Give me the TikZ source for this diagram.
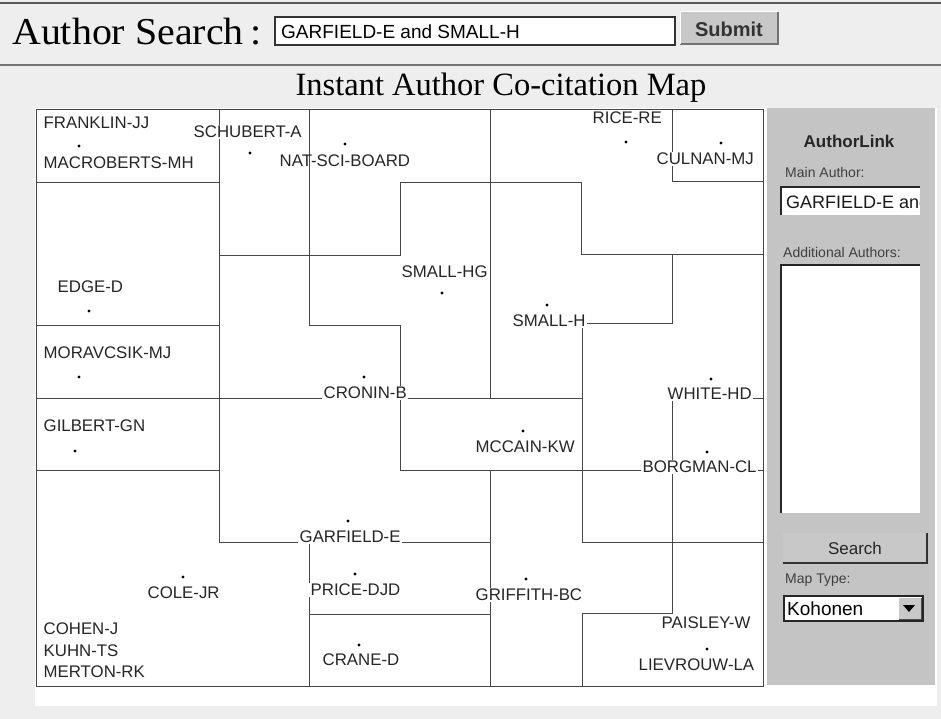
\documentclass[tikz,border=0pt]{standalone}
\usepackage{fontspec}
\setmainfont{Liberation Serif}
\newfontfamily\arial{Liberation Sans}
\definecolor{pagebg}{RGB}{238,238,238}
\definecolor{panelgray}{RGB}{196,196,196}
\definecolor{btngray}{RGB}{200,200,200}
\definecolor{gridcol}{RGB}{70,70,70}
\begin{document}
\begin{tikzpicture}[x=1pt,y=-1pt,
  grid/.style={draw=gridcol, line width=0.9pt},
  lbl/.style={font=\arial\fontsize{16.8}{18}\selectfont, inner sep=1.5pt, anchor=west, text=black!85},
  wlbl/.style={lbl, fill=white},
  pt/.style={fill=black, circle, inner sep=0pt, minimum size=3.2pt},
  small/.style={font=\arial\fontsize{14}{15}\selectfont, anchor=west, inner sep=0pt, text=black!75},
]
\useasboundingbox (0,0) rectangle (941,719);
\fill[pagebg] (0,0) rectangle (941,719);
% header rules
\draw[line width=2pt, black!65] (0,3) -- (941,3);
\draw[line width=2.5pt, black!55] (0,65) -- (941,65);
% search row
\node[font=\fontsize{38}{42}\selectfont, anchor=base west, inner sep=0pt, xscale=1.05] (lab) at (12,45) {Author Search\kern6pt:};
\draw[fill=white, draw=black!80, line width=1.2pt] (275,17) rectangle (675,45);
\node[font=\arial\fontsize{19}{21}\selectfont, anchor=west, inner sep=0pt] (query) at (281,32) {GARFIELD-E and SMALL-H};
\fill[btngray] (680,12) rectangle (778,44);
\draw[line width=1.5pt, black!55] (680,44) -- (778,44) -- (778,12);
\draw[line width=1pt, white] (680,44) -- (680,12) -- (778,12);
\node[font=\arial\bfseries\fontsize{20}{22}\selectfont, text=black!80] (submit) at (729,29) {Submit};
% title
\node[font=\fontsize{32.5}{35}\selectfont] (title) at (501,88) {Instant Author Co-citation Map};
% white area
\fill[white] (35,108) rectangle (937,706);
% side panel
\fill[panelgray] (767,108) rectangle (935,685);
% map frame
\draw[grid] (36,109) rectangle (763,686);
% region borders
\draw[grid] (36,182) -- (219,182);
\draw[grid] (36,325) -- (219,325);
\draw[grid] (36,398) -- (582,398);
\draw[grid] (36,470) -- (219,470);
\draw[grid] (219,109) -- (219,542) -- (490,542);
\draw[grid] (219,255) -- (400,255) -- (400,182) -- (581,182) -- (581,254) -- (763,254);
\draw[grid] (309,109) -- (309,325) -- (400,325) -- (400,470) -- (763,470);
\draw[grid] (490,109) -- (490,398);
\draw[grid] (490,470) -- (490,686);
\draw[grid] (672,109) -- (672,181) -- (763,181);
\draw[grid] (582,542) -- (582,323) -- (672,323) -- (672,254);
\draw[grid] (763,398) -- (672,398) -- (672,613) -- (582,613) -- (582,686);
\draw[grid] (582,542) -- (763,542);
\draw[grid] (309,542) -- (309,686);
\draw[grid] (309,614) -- (490,614);
% labels
\node[lbl] (franklin) at (42,123) {FRANKLIN-JJ};
\node[pt] (dfranklin) at (79,146) {};
\node[lbl] (macroberts) at (42,163) {MACROBERTS-MH};
\node[wlbl] (schubert) at (192,132) {SCHUBERT-A};
\node[pt] (dschubert) at (250,153) {};
\node[lbl] (natsci) at (278,161) {NAT-SCI-BOARD};
\node[pt] (dnatsci) at (345,144) {};
\node[wlbl] (rice) at (591,118) {RICE-RE};
\node[pt] (drice) at (626,142) {};
\node[wlbl] (culnan) at (655,159) {CULNAN-MJ};
\node[pt] (dculnan) at (721,143) {};
\node[lbl] (edge) at (56,287) {EDGE-D};
\node[pt] (dedge) at (89,311) {};
\node[lbl] (smallhg) at (400,272) {SMALL-HG};
\node[pt] (dsmallhg) at (442,293) {};
\node[wlbl] (smallh) at (511,321) {SMALL-H};
\node[pt] (dsmallh) at (547,305) {};
\node[lbl] (moravcsik) at (42,353) {MORAVCSIK-MJ};
\node[pt] (dmoravcsik) at (79,377) {};
\node[wlbl] (cronin) at (322,393) {CRONIN-B};
\node[pt] (dcronin) at (364,377) {};
\node[wlbl] (white) at (666,394) {WHITE-HD};
\node[pt] (dwhite) at (711,379) {};
\node[lbl] (gilbert) at (42,426) {GILBERT-GN};
\node[pt] (dgilbert) at (75,451) {};
\node[lbl] (mccain) at (474,447) {MCCAIN-KW};
\node[pt] (dmccain) at (523,431) {};
\node[wlbl] (borgman) at (641,467) {BORGMAN-CL};
\node[pt] (dborgman) at (707,452) {};
\node[wlbl] (garfield) at (298,537) {GARFIELD-E};
\node[pt] (dgarfield) at (348,521) {};
\node[lbl] (cole) at (146,593) {COLE-JR};
\node[pt] (dcole) at (183,577) {};
\node[wlbl] (price) at (309,590) {PRICE-DJD};
\node[pt] (dprice) at (355,574) {};
\node[wlbl] (griffith) at (474,595) {GRIFFITH-BC};
\node[pt] (dgriffith) at (526,579) {};
\node[wlbl] (paisley) at (660,623) {PAISLEY-W};
\node[lbl] (crane) at (321,660) {CRANE-D};
\node[pt] (dcrane) at (359,645) {};
\node[lbl] (lievrouw) at (637,665) {LIEVROUW-LA};
\node[pt] (dlievrouw) at (707,649) {};
\node[lbl] (cohen) at (42,629) {COHEN-J};
\node[lbl] (kuhn) at (42,651) {KUHN-TS};
\node[lbl] (merton) at (42,672) {MERTON-RK};
% panel contents
\node[font=\arial\bfseries\fontsize{17}{19}\selectfont, text=black!85] (authorlink) at (849,141) {AuthorLink};
\node[small] (mainauthor) at (785,172) {Main Author:};
\fill[white] (781,187) rectangle (920,215);
\begin{scope}
\clip (781,187) rectangle (919,215);
\node[font=\arial\fontsize{18}{20}\selectfont, anchor=west, inner sep=0pt, text=black!90] (mainval) at (786,202) {GARFIELD-E and};
\end{scope}
\draw[line width=2pt, black!85] (781,215) -- (781,187) -- (920,187);
\node[small] (addauth) at (783,252) {Additional Authors:};
\fill[white] (781,265) rectangle (920,513);
\draw[line width=2pt, black!85] (781,513) -- (781,265) -- (920,265);
\fill[btngray] (783,533) rectangle (927,563);
\draw[line width=2pt, black!80] (783,563) -- (927,563) -- (927,533);
\node[font=\arial\fontsize{17}{19}\selectfont, text=black!85] (search) at (855,548) {Search};
\node[small] (maptype) at (785,580) {Map Type:};
\fill[white] (784,596) rectangle (923,621);
\draw[line width=1.6pt, black!85] (784,621) -- (784,596) -- (923,596) -- (923,621) -- cycle;
\fill[btngray] (899,598) rectangle (921,619);
\draw[line width=1pt, black!70] (899,619) -- (921,619) -- (921,598);
\fill[black] (903,605) -- (915,605) -- (909,612) -- cycle;
\node[font=\arial\fontsize{19}{21}\selectfont, anchor=west, inner sep=0pt] (kohonen) at (787,609) {Kohonen};
\end{tikzpicture}
\end{document}
